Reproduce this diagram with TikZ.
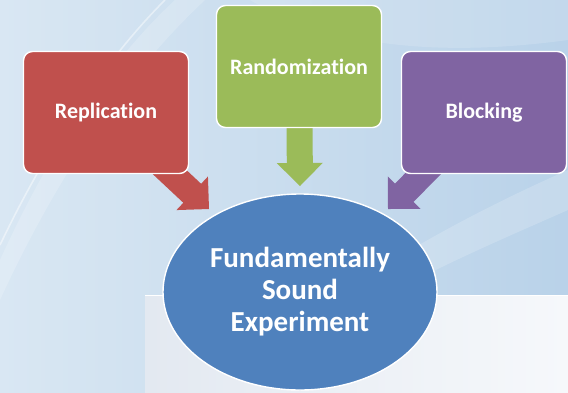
\documentclass[tikz,border=0pt]{standalone}
\usepackage{fontspec}
\setmainfont{Carlito}[Ligatures=NoCommon]
\usetikzlibrary{calc,shapes.geometric}
\definecolor{bgLeft}{HTML}{D9E7F3}
\definecolor{bgRight}{HTML}{B9D2E9}
\definecolor{panelL}{HTML}{E3E9F1}
\definecolor{panelR}{HTML}{F6F8FB}
\definecolor{redbox}{HTML}{C0504D}
\definecolor{greenbox}{HTML}{9BBB59}
\definecolor{purplebox}{HTML}{8064A2}
\definecolor{bluebox}{HTML}{4F81BD}
\pgfdeclarelayer{backdrop}
\pgfdeclarelayer{links}
\pgfsetlayers{backdrop,links,main}
% block arrow from #2 towards tip #3, filled with #1
\newcommand\blockarrow[3]{%
  \path ($(#3)!23pt!(#2)$) coordinate (hb);
  \fill[#1] ($(#2)!13pt!90:(#3)$) -- ($(hb)!13pt!90:(#3)$) -- ($(hb)!23pt!90:(#3)$)
    -- (#3) -- ($(hb)!23pt!-90:(#3)$) -- ($(hb)!13pt!-90:(#3)$)
    -- ($(#2)!13pt!-90:(#3)$) -- cycle;}
\tikzset{
  box/.style={rounded corners=9pt, draw=white, line width=1.4pt,
    minimum width=165pt, minimum height=122pt, text=white,
    font=\fontsize{22}{26}\selectfont\bfseries},
  goal/.style={ellipse, draw=white, line width=1.4pt, fill=bluebox,
    minimum width=274pt, minimum height=196pt, text=white, align=center,
    font=\fontsize{29}{32}\selectfont\bfseries}
}
\begin{document}
\begin{tikzpicture}[x=1pt,y=-1pt]
\useasboundingbox (0,0) rectangle (568,392);
\begin{pgfonlayer}{backdrop}
  \fill[left color=bgLeft, right color=bgRight] (0,0) rectangle (568,392);
  % soft light streaks
  \fill[white, opacity=0.18] (0,260) .. controls (50,150) and (110,60) .. (175,0)
    -- (205,0) .. controls (130,70) and (60,170) .. (0,300) -- cycle;
  \draw[white, opacity=0.45, line width=1.6pt] (0,245) .. controls (50,140) and (110,55) .. (165,0);
  \fill[white, opacity=0.18] (330,300) .. controls (420,240) and (500,200) .. (568,170)
    -- (568,210) .. controls (500,240) and (430,270) .. (380,300) -- cycle;
  \fill[white, opacity=0.15] (250,0) .. controls (320,40) and (420,60) .. (568,40)
    -- (568,0) -- cycle;
  % lower panel
  \fill[left color=panelL, right color=panelR] (145,295) rectangle (568,392);
  \draw[white, line width=0.8pt] (145,295) -- (568,295);
\end{pgfonlayer}

\node[box, fill=redbox] (rep) at (106,112.5) {Replication};
\node[box, fill=greenbox] (rnd) at (299,66.5) {Randomization};
\node[box, fill=purplebox] (blk) at (484,112.5) {Blocking};
\node[goal] (exp) at (300,292) {Fundamentally\\Sound\\Experiment};

\coordinate (rtip) at (209,209);
\coordinate (gtip) at (300,186);
\coordinate (btip) at (388,209);
\begin{pgfonlayer}{links}
  \blockarrow{redbox}{rep.center}{rtip}
  \blockarrow{greenbox}{rnd.center}{gtip}
  \blockarrow{purplebox}{blk.center}{btip}
\end{pgfonlayer}
\end{tikzpicture}
\end{document}
